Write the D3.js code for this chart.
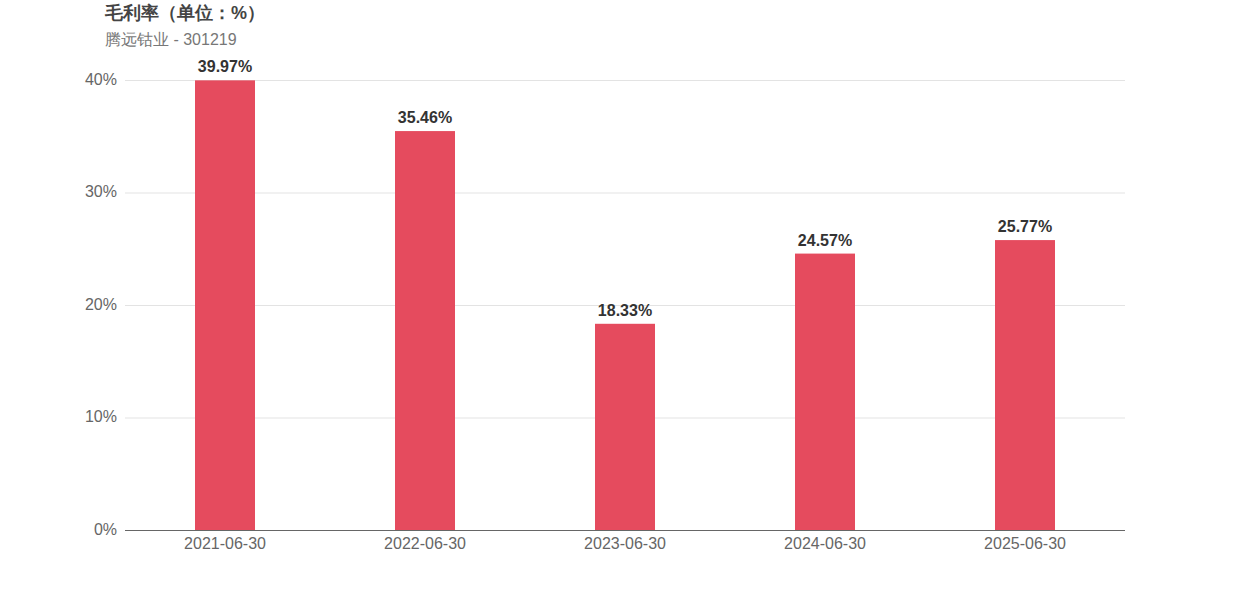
<!DOCTYPE html>
<html><head><meta charset="utf-8">
<script src="https://cdn.jsdelivr.net/npm/d3@7"></script>
<style>body{margin:0;background:#fff;font-family:"Liberation Sans",Arial,sans-serif;}</style>
</head><body>
<svg id="c" width="1250" height="600"></svg>
<script>
const categories = ["2021-06-30","2022-06-30","2023-06-30","2024-06-30","2025-06-30"];
const values = [39.97, 35.46, 18.33, 24.57, 25.77];
const yTicks = [0, 10, 20, 30, 40];
const title = "毛利率（单位：%）";
const subtitle = "腾远钴业 - 301219";

const svg = d3.select("#c");
const m = {left:125, right:1125, top:80, bottom:530};
const x = d3.scaleBand().domain(categories).range([m.left, m.right]).paddingInner(0).paddingOuter(0);
const y = d3.scaleLinear().domain([0, 40]).range([m.bottom, m.top]);
const font = "'Liberation Sans', Arial, sans-serif";

svg.append("text").attr("x",105).attr("y",19).text(title)
  .attr("font-family",font).attr("font-size",18).attr("font-weight","bold").attr("fill","#444");
svg.append("text").attr("x",105).attr("y",45).text(subtitle)
  .attr("font-family",font).attr("font-size",16).attr("fill","#777");

// grid
svg.append("g").selectAll("line").data(yTicks.filter(d=>d>0)).join("line")
  .attr("x1",m.left).attr("x2",m.right).attr("y1",d=>y(d)+0.5).attr("y2",d=>y(d)+0.5)
  .attr("stroke","#e3e3e3").attr("stroke-width",1);

// y axis labels
const yAxis = d3.axisLeft(y).tickValues(yTicks).tickFormat(d=>d+"%").tickSize(0).tickPadding(8);
const gy = svg.append("g").attr("transform",`translate(${m.left},-1)`).call(yAxis);
gy.select(".domain").remove();
gy.selectAll("text").attr("font-family",font).attr("font-size",16).attr("fill","#666");

// bars
const bw = 60;
svg.append("g").selectAll("rect").data(values).join("rect")
  .attr("x",(d,i)=>x(categories[i])+x.bandwidth()/2-bw/2)
  .attr("width",bw)
  .attr("y",d=>y(d)).attr("height",d=>y(0)-y(d))
  .attr("fill","#e54b5e");

svg.append("g").selectAll("text").data(values).join("text")
  .attr("x",(d,i)=>x(categories[i])+x.bandwidth()/2)
  .attr("y",d=>y(d)-8)
  .attr("text-anchor","middle")
  .attr("font-family",font).attr("font-size",16).attr("font-weight","bold").attr("fill","#333")
  .text(d=>d.toFixed(2)+"%");

// x axis
const xAxis = d3.axisBottom(x).tickSize(0).tickPadding(8);
const gx = svg.append("g").attr("transform",`translate(0,${m.bottom})`).call(xAxis);
gx.select(".domain").attr("stroke","#666").attr("d",`M${m.left},0.5H${m.right}`);
gx.selectAll("text").attr("font-family",font).attr("font-size",16).attr("fill","#666");
</script>
</body></html>
